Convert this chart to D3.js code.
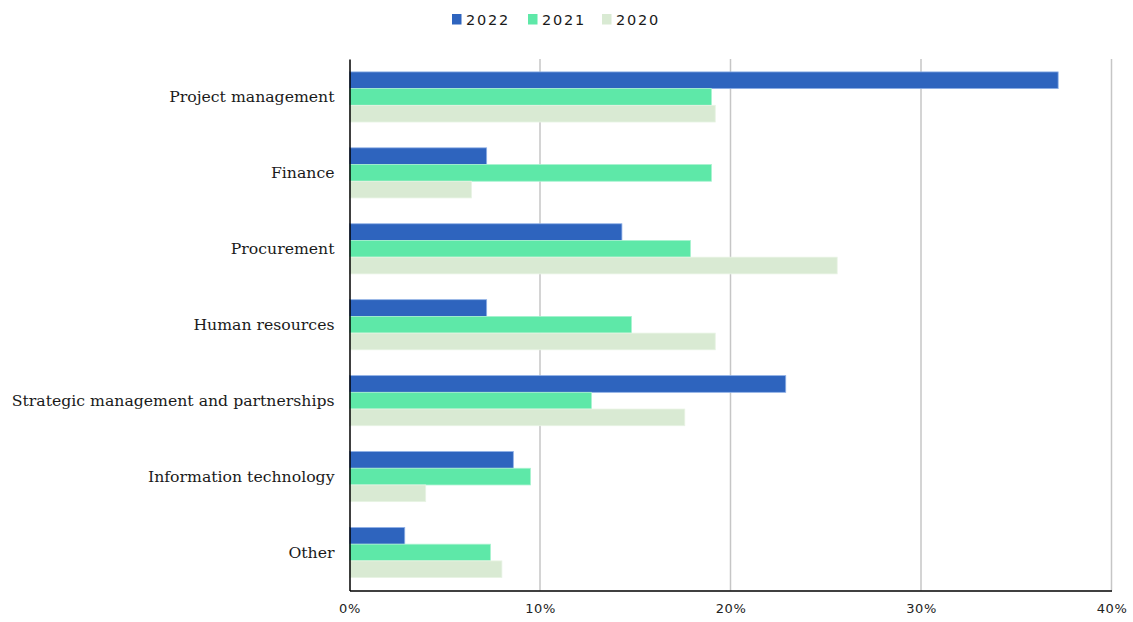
<!DOCTYPE html>
<html>
<head>
<meta charset="utf-8">
<script src="https://cdn.jsdelivr.net/npm/d3@7"></script>
<style>
  body { margin: 0; background: #fff; }
  svg { display: block; }
</style>
</head>
<body>
<svg id="chart" width="1133" height="622"></svg>
<script>
// chart data
var categories = ["Project management", "Finance", "Procurement", "Human resources",
                  "Strategic management and partnerships", "Information technology", "Other"];
var years = ["2022", "2021", "2020"];
var v2022 = [37.2, 7.2, 14.3, 7.2, 22.9, 8.6, 2.9];
var v2021 = [19.0, 19.0, 17.9, 14.8, 12.7, 9.5, 7.4];
var v2020 = [19.2, 6.4, 25.6, 19.2, 17.6, 4.0, 8.0];
var xTicks = [0, 10, 20, 30, 40];

var fills = ["#2e64be", "#5ee8a8", "#d9ead3"];
var strokes = ["#8fb0e6", "#a8f3cf", "#e8f3e4"];

var series = [v2022, v2021, v2020];
var rows = categories.map(function(c, i) {
  return { cat: c, vals: series.map(function(s, k) { return { key: years[k], v: s[i] }; }) };
});

var svg = d3.select("#chart");
var m = { left: 349.5, right: 1111.5, top: 59, bottom: 590.5 };

var x = d3.scaleLinear().domain([0, 40]).range([m.left, m.right]);
var y = d3.scaleBand().domain(categories).range([m.top, m.bottom]).paddingInner(0.34).paddingOuter(0.17);
var yIn = d3.scaleBand().domain(years).range([0, y.bandwidth()]);

// gridlines
svg.append("g")
  .selectAll("line")
  .data(xTicks.filter(function(d) { return d > 0; }))
  .enter().append("line")
    .attr("x1", function(d) { return x(d); })
    .attr("x2", function(d) { return x(d); })
    .attr("y1", m.top)
    .attr("y2", m.bottom)
    .style("stroke", "#c6c6c6")
    .style("stroke-width", 1.5);

// bars
var grp = svg.append("g").selectAll("g")
  .data(rows)
  .enter().append("g")
    .attr("transform", function(d) { return "translate(0," + y(d.cat) + ")"; });

grp.selectAll("rect")
  .data(function(d) { return d.vals; })
  .enter().append("rect")
    .attr("x", x(0))
    .attr("y", function(d) { return yIn(d.key); })
    .attr("width", function(d) { return x(d.v) - x(0); })
    .attr("height", yIn.bandwidth())
    .style("fill", function(d, k) { return fills[k]; })
    .style("stroke", function(d, k) { return strokes[k]; })
    .style("stroke-width", 0.8);

// x axis
var xAxis = d3.axisBottom(x).tickValues(xTicks).tickSize(0).tickPadding(13)
  .tickFormat(function(d) { return d + "%"; });
var gx = svg.append("g").attr("transform", "translate(0," + m.bottom + ")").call(xAxis);
gx.select(".domain").style("stroke", "#000").style("stroke-width", 1.5);
gx.selectAll("text")
  .style("font-family", "'DejaVu Sans', sans-serif")
  .style("font-size", "13px")
  .style("letter-spacing", "0.6px")
  .style("fill", "#222");

// y axis
var yAxis = d3.axisLeft(y).tickSize(0).tickPadding(15);
var gy = svg.append("g").attr("transform", "translate(" + m.left + ",0)").call(yAxis);
gy.select(".domain").style("stroke", "#000").style("stroke-width", 1.5);
gy.selectAll("text")
  .style("font-family", "'DejaVu Serif', serif")
  .style("font-size", "15.7px")
  .style("fill", "#1a1a1a");

// legend
var legX = [452, 528, 602];
var leg = svg.append("g").selectAll("g")
  .data(years)
  .enter().append("g")
    .attr("transform", function(d, i) { return "translate(" + legX[i] + ",14)"; });
leg.append("rect")
  .attr("width", 9.5).attr("height", 10.5)
  .style("fill", function(d, i) { return fills[i]; });
leg.append("text")
  .attr("x", 14).attr("y", 10.5)
  .text(function(d) { return d; })
  .style("font-family", "'DejaVu Sans', sans-serif")
  .style("font-size", "14.5px")
  .style("letter-spacing", "1.8px")
  .style("fill", "#1a1a1a");
</script>
</body>
</html>
